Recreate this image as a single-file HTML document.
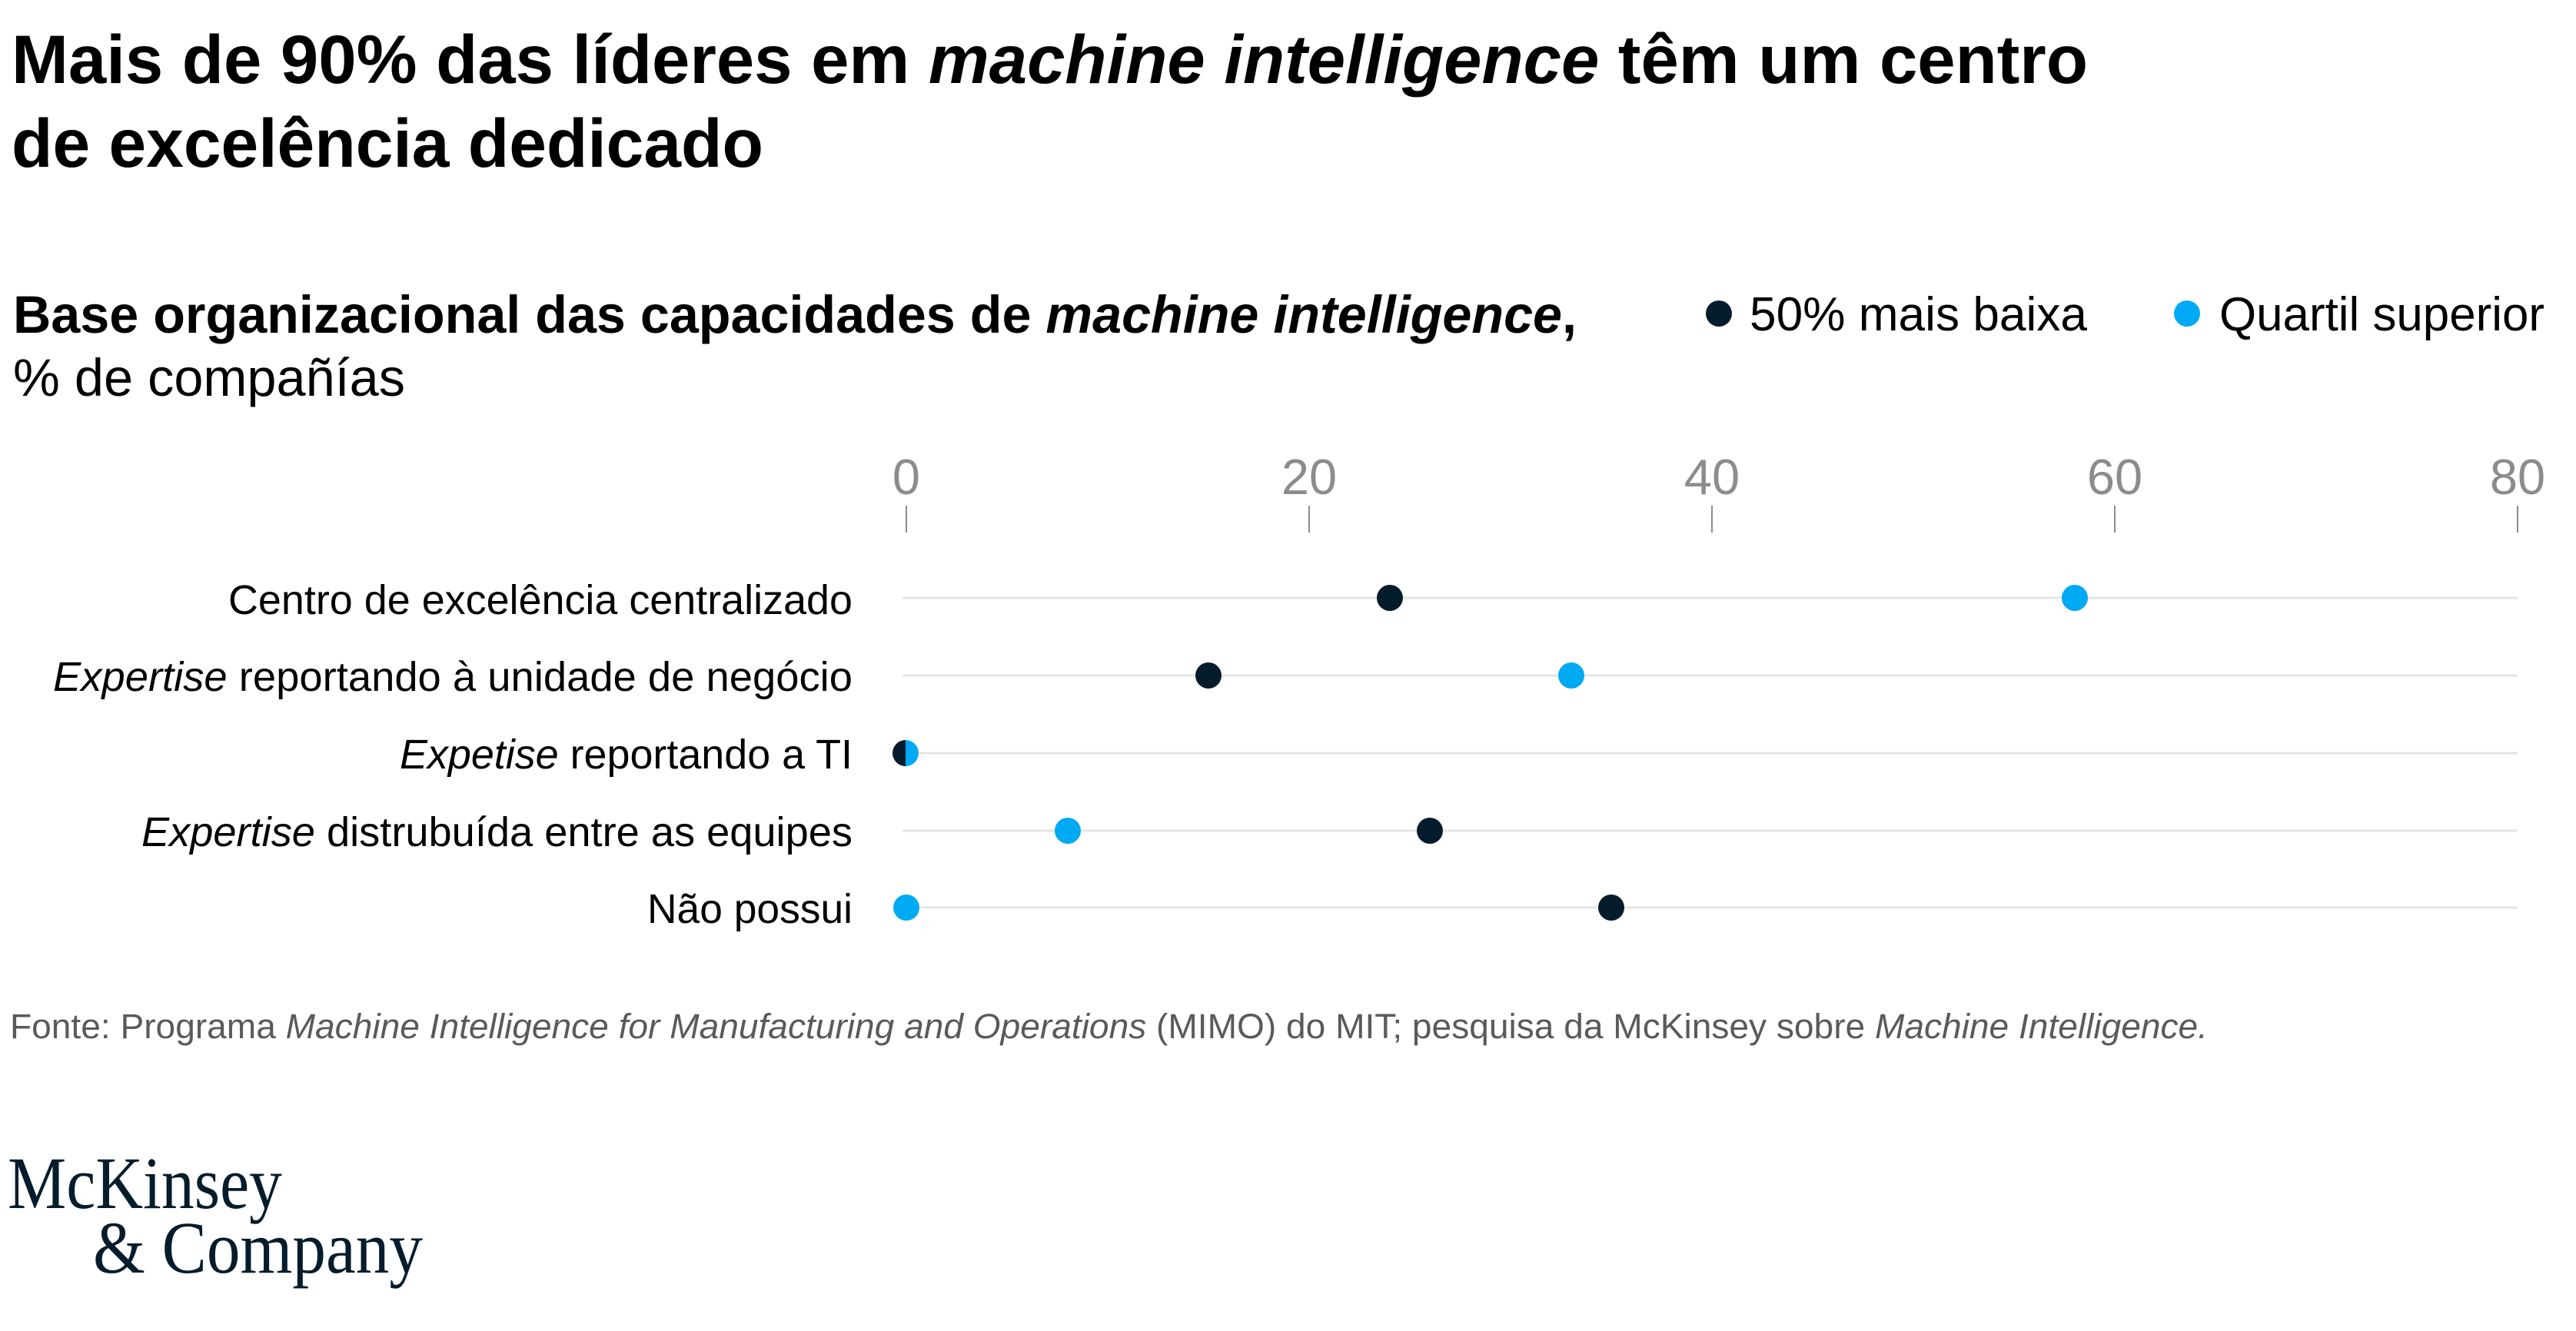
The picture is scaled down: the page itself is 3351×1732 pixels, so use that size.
<!DOCTYPE html>
<html>
<head>
<meta charset="utf-8">
<style>
html,body{margin:0;padding:0;background:#fff;}
svg{display:block;}
text{font-family:"Liberation Sans",Arial,sans-serif;}
</style>
</head>
<body>
<svg width="3351" height="1732" viewBox="0 0 3351 1732" xmlns="http://www.w3.org/2000/svg">
<rect width="3351" height="1732" fill="#fff"/>

<!-- Title -->
<text x="15" y="108" font-size="89" font-weight="bold" fill="#000" textLength="2701" lengthAdjust="spacingAndGlyphs">Mais de 90% das líderes em <tspan font-style="italic">machine intelligence</tspan> têm um centro</text>
<text x="15" y="217" font-size="89" font-weight="bold" fill="#000" textLength="978" lengthAdjust="spacingAndGlyphs">de excelência dedicado</text>

<!-- Subtitle -->
<text x="17" y="433" font-size="69" font-weight="bold" fill="#000" textLength="2034" lengthAdjust="spacingAndGlyphs">Base organizacional das capacidades de <tspan font-style="italic">machine intelligence</tspan>,</text>
<text x="17" y="515" font-size="69" fill="#000" textLength="510" lengthAdjust="spacingAndGlyphs">% de compañías</text>

<!-- Legend -->
<circle cx="2236" cy="408" r="17" fill="#051c2c"/>
<text x="2276" y="430" font-size="62" fill="#000" textLength="439" lengthAdjust="spacingAndGlyphs">50% mais baixa</text>
<circle cx="2845" cy="408" r="17" fill="#00a9f4"/>
<text x="2887" y="430" font-size="62" fill="#000" textLength="423" lengthAdjust="spacingAndGlyphs">Quartil superior</text>

<!-- Axis ticks -->
<g fill="#8c8c8c" font-size="65" text-anchor="middle">
<text x="1179" y="643">0</text>
<text x="1703" y="643">20</text>
<text x="2227" y="643">40</text>
<text x="2751" y="643">60</text>
<text x="3275" y="643">80</text>
</g>
<g stroke="#8c8c8c" stroke-width="2">
<line x1="1179" y1="658" x2="1179" y2="693"/>
<line x1="1703" y1="658" x2="1703" y2="693"/>
<line x1="2227" y1="658" x2="2227" y2="693"/>
<line x1="2751" y1="658" x2="2751" y2="693"/>
<line x1="3275" y1="658" x2="3275" y2="693"/>
</g>

<!-- Grid lines -->
<g stroke="#e5e5e5" stroke-width="3">
<line x1="1174" y1="778" x2="3275" y2="778"/>
<line x1="1174" y1="879" x2="3275" y2="879"/>
<line x1="1174" y1="980" x2="3275" y2="980"/>
<line x1="1174" y1="1081" x2="3275" y2="1081"/>
<line x1="1174" y1="1181" x2="3275" y2="1181"/>
</g>

<!-- Row labels -->
<g font-size="54" fill="#000" text-anchor="end">
<text x="1109" y="799" textLength="812" lengthAdjust="spacingAndGlyphs">Centro de excelência centralizado</text>
<text x="1109" y="899" textLength="1040" lengthAdjust="spacingAndGlyphs"><tspan font-style="italic">Expertise</tspan> reportando à unidade de negócio</text>
<text x="1109" y="1000" textLength="589" lengthAdjust="spacingAndGlyphs"><tspan font-style="italic">Expetise</tspan> reportando a TI</text>
<text x="1109" y="1101" textLength="925" lengthAdjust="spacingAndGlyphs"><tspan font-style="italic">Expertise</tspan> distrubuída entre as equipes</text>
<text x="1109" y="1201" textLength="267" lengthAdjust="spacingAndGlyphs">Não possui</text>
</g>

<!-- Dots -->
<circle cx="1808" cy="778" r="17" fill="#051c2c"/>
<circle cx="2699" cy="778" r="17" fill="#00a9f4"/>
<circle cx="1572" cy="879" r="17" fill="#051c2c"/>
<circle cx="2044" cy="879" r="17" fill="#00a9f4"/>
<path d="M1178 963 A17 17 0 0 0 1178 997 Z" fill="#051c2c"/>
<path d="M1178 963 A17 17 0 0 1 1178 997 Z" fill="#00a9f4"/>
<circle cx="1389" cy="1081" r="17" fill="#00a9f4"/>
<circle cx="1860" cy="1081" r="17" fill="#051c2c"/>
<circle cx="1179" cy="1181" r="17" fill="#00a9f4"/>
<circle cx="2096" cy="1181" r="17" fill="#051c2c"/>

<!-- Footer -->
<text x="13" y="1351" font-size="45" fill="#5a5a5a" textLength="2859" lengthAdjust="spacingAndGlyphs">Fonte: Programa <tspan font-style="italic">Machine Intelligence for Manufacturing and Operations</tspan> (MIMO) do MIT; pesquisa da McKinsey sobre <tspan font-style="italic">Machine Intelligence.</tspan></text>

<!-- Logo -->
<text x="10" y="1572" font-size="96" fill="#051c2c" style="font-family:'Liberation Serif',serif;" textLength="357" lengthAdjust="spacingAndGlyphs">McKinsey</text>
<text x="121" y="1656" font-size="96" fill="#051c2c" style="font-family:'Liberation Serif',serif;" textLength="429" lengthAdjust="spacingAndGlyphs">&amp; Company</text>
</svg>
</body>
</html>
